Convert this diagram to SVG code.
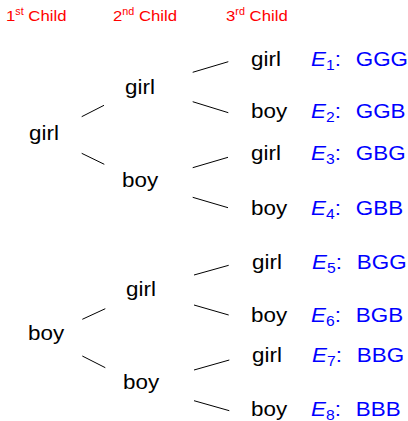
<svg xmlns="http://www.w3.org/2000/svg" width="408" height="421" viewBox="0 0 408 421">
<style>
.hdr{font-family:"Liberation Sans",Arial,sans-serif;font-size:15.5px;fill:#ff0000}
.sup{font-size:10px}
.n{font-family:"Liberation Sans",Arial,sans-serif;font-size:20px;fill:#000}
.ev{font-family:"Liberation Sans",Arial,sans-serif;font-size:20px;fill:#0000ff}
.sub{font-size:14px}
.c line{stroke:#000;stroke-width:1}
</style>
<rect width="408" height="421" fill="#fff"/>
<g id="headers">
<text class="hdr" transform="translate(6,21) scale(1.08,1)">1<tspan class="sup" dy="-6">st</tspan><tspan dy="6"> Child</tspan></text>
<text class="hdr" transform="translate(113,21) scale(1.08,1)">2<tspan class="sup" dy="-6">nd</tspan><tspan dy="6"> Child</tspan></text>
<text class="hdr" transform="translate(226,21) scale(1.08,1)">3<tspan class="sup" dy="-6">rd</tspan><tspan dy="6"> Child</tspan></text>
</g>
<g class="c" id="connectors">
<line x1="81.7" y1="116.7" x2="104" y2="105.3"/>
<line x1="81.7" y1="153.3" x2="104.3" y2="164.3"/>
<line x1="192.7" y1="72.3" x2="228.3" y2="61.7"/>
<line x1="192.7" y1="101.7" x2="228.3" y2="112.7"/>
<line x1="192.7" y1="167.7" x2="228" y2="157.3"/>
<line x1="192.7" y1="197.3" x2="228" y2="207.7"/>
<line x1="82.3" y1="319.3" x2="105.3" y2="308.7"/>
<line x1="82.3" y1="356" x2="105.3" y2="367.7"/>
<line x1="194" y1="275" x2="228.7" y2="265.3"/>
<line x1="194" y1="305" x2="228.7" y2="315"/>
<line x1="194" y1="370" x2="229.3" y2="360"/>
<line x1="194" y1="400.7" x2="229.3" y2="410.7"/>
</g>
<g id="n-g"><text class="n" transform="translate(29,140) scale(1.12,1)">girl</text></g>
<g id="n-b"><text class="n" transform="translate(28,340) scale(1.12,1)">boy</text></g>
<g id="n-gg"><text class="n" transform="translate(125,94) scale(1.12,1)">girl</text></g>
<g id="n-gb"><text class="n" transform="translate(122,187) scale(1.12,1)">boy</text></g>
<g id="n-bg"><text class="n" transform="translate(126,296) scale(1.12,1)">girl</text></g>
<g id="n-bb"><text class="n" transform="translate(123,389) scale(1.12,1)">boy</text></g>
<g id="n-ggg"><text class="n" transform="translate(251,66) scale(1.12,1)">girl</text><text class="ev" transform="translate(311,66) scale(1.12,1)"><tspan font-style="italic">E</tspan><tspan class="sub" dy="4">1</tspan><tspan dy="-4">:</tspan><tspan x="40">GGG</tspan></text></g>
<g id="n-ggb"><text class="n" transform="translate(251,118) scale(1.12,1)">boy</text><text class="ev" transform="translate(311,118) scale(1.12,1)"><tspan font-style="italic">E</tspan><tspan class="sub" dy="4">2</tspan><tspan dy="-4">:</tspan><tspan x="40">GGB</tspan></text></g>
<g id="n-gbg"><text class="n" transform="translate(251,160) scale(1.12,1)">girl</text><text class="ev" transform="translate(311,160) scale(1.12,1)"><tspan font-style="italic">E</tspan><tspan class="sub" dy="4">3</tspan><tspan dy="-4">:</tspan><tspan x="40">GBG</tspan></text></g>
<g id="n-gbb"><text class="n" transform="translate(251,215) scale(1.12,1)">boy</text><text class="ev" transform="translate(311,215) scale(1.12,1)"><tspan font-style="italic">E</tspan><tspan class="sub" dy="4">4</tspan><tspan dy="-4">:</tspan><tspan x="40">GBB</tspan></text></g>
<g id="n-bgg"><text class="n" transform="translate(252,269) scale(1.12,1)">girl</text><text class="ev" transform="translate(312,269) scale(1.12,1)"><tspan font-style="italic">E</tspan><tspan class="sub" dy="4">5</tspan><tspan dy="-4">:</tspan><tspan x="40">BGG</tspan></text></g>
<g id="n-bgb"><text class="n" transform="translate(251,322) scale(1.12,1)">boy</text><text class="ev" transform="translate(311,322) scale(1.12,1)"><tspan font-style="italic">E</tspan><tspan class="sub" dy="4">6</tspan><tspan dy="-4">:</tspan><tspan x="40">BGB</tspan></text></g>
<g id="n-bbg"><text class="n" transform="translate(252,362) scale(1.12,1)">girl</text><text class="ev" transform="translate(312,362) scale(1.12,1)"><tspan font-style="italic">E</tspan><tspan class="sub" dy="4">7</tspan><tspan dy="-4">:</tspan><tspan x="40">BBG</tspan></text></g>
<g id="n-bbb"><text class="n" transform="translate(251,416) scale(1.12,1)">boy</text><text class="ev" transform="translate(311,416) scale(1.12,1)"><tspan font-style="italic">E</tspan><tspan class="sub" dy="4">8</tspan><tspan dy="-4">:</tspan><tspan x="40">BBB</tspan></text></g>
</svg>
